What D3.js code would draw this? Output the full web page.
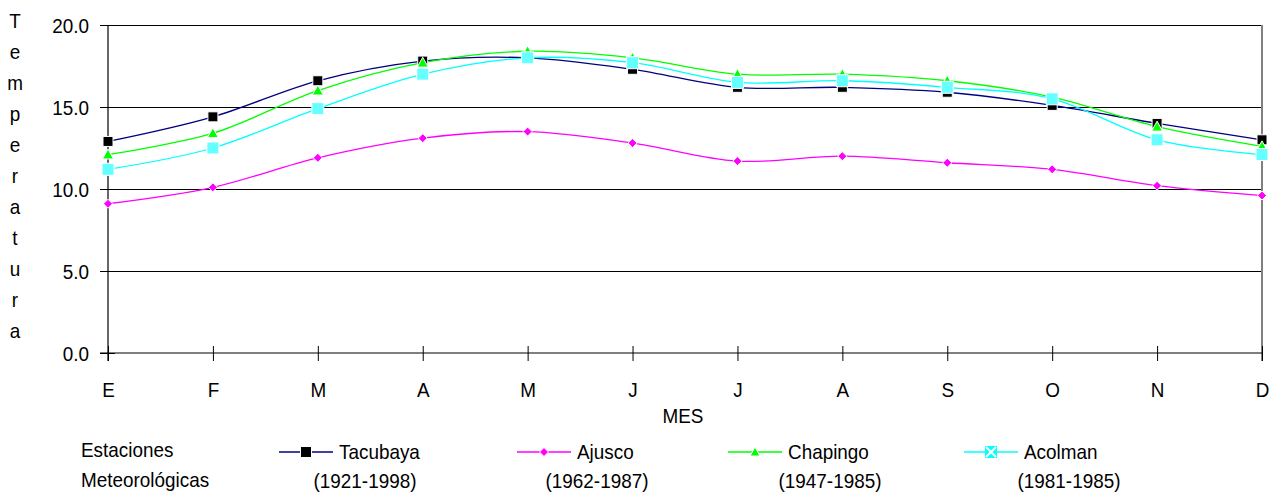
<!DOCTYPE html>
<html>
<head>
<meta charset="utf-8">
<script src="https://cdn.jsdelivr.net/npm/d3@7"></script>
<style>
  html, body { margin: 0; padding: 0; background: #fff; }
  svg { display: block; }
  text { font-family: "Liberation Sans", Arial, sans-serif; fill: #000; }
</style>
</head>
<body>
<svg id="chart" width="1273" height="494"></svg>
<script>
// ---- data ----
const months = ["E","F","M","A","M","J","J","A","S","O","N","D"];
const yTicks = [0, 5, 10, 15, 20];
const tacubaya = [12.9, 14.4, 16.6, 17.8, 18.0, 17.3, 16.2, 16.2, 15.9, 15.1, 14.0, 13.0];
const ajusco   = [9.1, 10.1, 11.9, 13.1, 13.5, 12.8, 11.7, 12.0, 11.6, 11.2, 10.2, 9.6];
const chapingo = [12.1, 13.4, 16.0, 17.7, 18.4, 18.0, 17.0, 17.0, 16.6, 15.6, 13.8, 12.6];
const acolman  = [11.2, 12.5, 14.9, 17.0, 18.0, 17.7, 16.5, 16.6, 16.2, 15.5, 13.0, 12.1];
const seriesNames = ["Tacubaya", "Ajusco", "Chapingo", "Acolman"];
const seriesPeriods = ["(1921-1998)", "(1962-1987)", "(1947-1985)", "(1981-1985)"];
const yTitle = "Temperatura";
const xTitle = "MES";
const legendTitle = ["Estaciones", "Meteorológicas"];

const series = [
  { name: seriesNames[0], period: seriesPeriods[0], values: tacubaya, color: "#000080", marker: "square", fill: "#000000", size: 10 },
  { name: seriesNames[1], period: seriesPeriods[1], values: ajusco,   color: "#FF00FF", marker: "diamond", fill: "#FF00FF", size: 9 },
  { name: seriesNames[2], period: seriesPeriods[2], values: chapingo, color: "#00FF00", marker: "triangle", fill: "#00FF00", size: 11 },
  { name: seriesNames[3], period: seriesPeriods[3], values: acolman,  color: "#00FFFF", marker: "square", fill: "#66FFFF", size: 12 }
];

// ---- layout ----
const svg = d3.select("#chart");
const pLeft = 108, pRight = 1262, pTop = 25, pBottom = 353;
const fs = 21, sx = 0.9;

function txt(parent, xp, yp, str, anchor) {
  return parent.append("text")
    .attr("transform", `translate(${xp},${yp}) scale(${sx},1)`)
    .attr("text-anchor", anchor || "start")
    .style("font-size", fs + "px").text(str);
}

const x = d3.scalePoint().domain(d3.range(months.length)).range([pLeft, pRight]);
const y = d3.scaleLinear().domain([0, 20]).range([pBottom, pTop]);

// gridlines
svg.append("g").selectAll("line").data(yTicks.filter(d => d > 0)).join("line")
  .attr("x1", pLeft).attr("x2", pRight)
  .attr("y1", d => y(d)).attr("y2", d => y(d))
  .attr("stroke", "#000").attr("stroke-width", 1).attr("shape-rendering", "crispEdges");

// right border (gray)
svg.append("line")
  .attr("x1", pRight).attr("x2", pRight).attr("y1", pTop).attr("y2", pBottom + 8)
  .attr("stroke", "#808080").attr("stroke-width", 2);

// y axis
const yAxis = svg.append("g").attr("transform", `translate(${pLeft},0)`)
  .call(d3.axisLeft(y).tickValues(yTicks).tickFormat(d3.format(".1f")).tickSize(8).tickSizeOuter(0));
yAxis.select(".domain").remove();
yAxis.selectAll(".tick line").attr("x1", 7).attr("stroke", "#000");
yAxis.selectAll(".tick text").attr("x", 0).attr("dy", "0.35em")
  .attr("transform", `translate(-19,0) scale(${sx},1)`)
  .style("font-size", fs + "px").style("font-family", "Liberation Sans, Arial, sans-serif").attr("fill", "#000");
svg.append("line").attr("x1", pLeft).attr("x2", pLeft).attr("y1", pTop).attr("y2", pBottom + 8)
  .attr("stroke", "#000").attr("stroke-width", 1.2);

// x axis
const xAxis = svg.append("g").attr("transform", `translate(0,${pBottom})`)
  .call(d3.axisBottom(x).tickFormat(i => months[i]).tickSize(8).tickSizeOuter(0));
xAxis.select(".domain").remove();
xAxis.selectAll(".tick line").attr("y1", -7).attr("stroke", "#000");
xAxis.selectAll(".tick text").attr("y", 0).attr("dy", 0)
  .attr("transform", `translate(0,44) scale(${sx},1)`)
  .style("font-size", fs + "px").style("font-family", "Liberation Sans, Arial, sans-serif").attr("fill", "#000");
svg.append("line").attr("x1", pLeft - 8).attr("x2", pRight).attr("y1", pBottom).attr("y2", pBottom)
  .attr("stroke", "#000").attr("stroke-width", 1.2);

// axis titles
txt(svg, 683, 423, xTitle, "middle");
const yt = svg.append("g");
yTitle.split("").forEach((c, i) => txt(yt, 15, 28 + i * 31, c, "middle"));

// lines
const line = d3.line().x((d, i) => x(i)).y(d => y(d)).curve(d3.curveCardinal.tension(0));
svg.append("g").selectAll("path").data(series).join("path")
  .attr("d", s => line(s.values))
  .attr("fill", "none").attr("stroke", s => s.color).attr("stroke-width", 1.3);

// marker shapes
function markerPath(type, size) {
  const h = size / 2;
  if (type === "square") return `M${-h},${-h}H${h}V${h}H${-h}Z`;
  if (type === "diamond") return `M0,${-h}L${h},0L0,${h}L${-h},0Z`;
  if (type === "triangle") return `M0,${-h}L${h},${h * 0.8}L${-h},${h * 0.8}Z`;
}

series.forEach(s => {
  svg.append("g").selectAll("path").data(s.values).join("path")
    .attr("transform", (d, i) => `translate(${x(i)},${y(d)})`)
    .attr("d", markerPath(s.marker, s.size))
    .attr("fill", s.fill).attr("stroke", "#fff").attr("stroke-width", 1);
});

// legend
txt(svg, 81, 457, legendTitle[0]);
txt(svg, 81, 487, legendTitle[1]);

const legX = [279, 517, 728, 964];
const periodCenter = [365, 597, 830, 1069];
const ly = 452;
series.forEach((s, k) => {
  const g = svg.append("g");
  const x0 = legX[k];
  g.append("line").attr("x1", x0).attr("x2", x0 + 54).attr("y1", ly).attr("y2", ly)
    .attr("stroke", s.color).attr("stroke-width", 1.3);
  const ms = k === 3 ? 12 : (s.marker === "diamond" ? 9 : (s.marker === "triangle" ? 10 : 11));
  g.append("path").attr("transform", `translate(${x0 + 27},${ly})`)
    .attr("d", markerPath(s.marker, ms)).attr("fill", k === 3 ? "#00FFFF" : s.fill)
    .attr("stroke", "#fff").attr("stroke-width", k === 3 ? 0 : 1);
  if (k === 3) {
    const h = ms / 2 - 1;
    g.append("path").attr("transform", `translate(${x0 + 27},${ly})`)
      .attr("d", `M${-h},${-h}L${h},${h}M${h},${-h}L${-h},${h}`)
      .attr("stroke", "#fff").attr("stroke-width", 2);
  }
  txt(g, x0 + 60, 459, s.name);
  txt(g, periodCenter[k], 488, s.period, "middle");
});
</script>
</body>
</html>
